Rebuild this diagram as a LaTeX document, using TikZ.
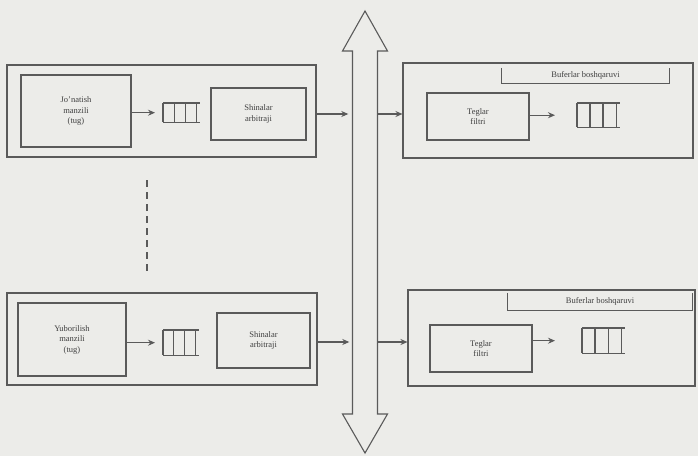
\documentclass[tikz,border=0pt]{standalone}
\usepackage{fontspec}
\setmainfont{Liberation Serif}
\usetikzlibrary{arrows.meta,calc}
\definecolor{ink}{HTML}{5A5A5A}
\definecolor{txt}{HTML}{404040}
\definecolor{paper}{HTML}{ECECE9}
\tikzset{
  box/.style={draw=ink, line width=1.1pt, inner sep=0pt, align=center, text=txt,
    font=\fontsize{8.5}{10.5}\selectfont},
  ghost/.style={inner sep=0pt, draw=none},
  arr/.style={draw=ink, line width=1.1pt, -{Stealth[length=7pt,width=6pt]}},
  qline/.style={draw=ink, line width=1.1pt},
}
% queue symbol: name, x-left, y-top, width, height
\newcommand\qsym[5]{%
  \node[ghost, minimum width=#4pt, minimum height=#5pt, anchor=north west] (#1) at (#2,#3) {};
  \draw[qline] (#1.north west) -- (#1.north east) (#1.south west) -- (#1.south east);
  \foreach \f in {0,0.3,0.6,0.9}{
    \draw[qline] ($(#1.north west)!\f!(#1.north east)$) -- ($(#1.south west)!\f!(#1.south east)$);}
}
\begin{document}
\begin{tikzpicture}[x=1pt,y=-1pt]
\fill[paper] (0,0) rectangle (698,456);
\useasboundingbox (0,0) rectangle (698,456);

% bus
\node[ghost, minimum width=25pt, minimum height=442pt] (bus) at (365,232) {};
\draw[ink, line width=1.1pt, fill=paper]
  (365,11) -- (387.5,51) -- (377.5,51) -- (377.5,414) -- (387.5,414) -- (365,453)
  -- (342.5,414) -- (352.5,414) -- (352.5,51) -- (342.5,51) -- cycle;

% top-left
\node[box, minimum width=309pt, minimum height=92pt] (oTL) at (161.5,111) {};
\node[box, minimum width=110pt, minimum height=72pt] (jo) at (76,111) {Jo'natish\\manzili\\(tug)};
\qsym{qTL}{163}{103}{37}{19}
\node[box, minimum width=95pt, minimum height=52pt] (shTL) at (258.5,114) {Shinalar\\arbitraji};
\draw[arr, shorten >=8pt] (jo.east |- qTL.west) -- (qTL.west);

% bottom-left
\node[box, minimum width=310pt, minimum height=92pt] (oBL) at (162,339) {};
\node[box, minimum width=108pt, minimum height=73pt] (yub) at (72,339.5) {Yuborilish\\manzili\\(tug)};
\qsym{qBL}{163}{330}{36}{25}
\node[box, minimum width=93pt, minimum height=55pt] (shBL) at (263.5,340.5) {Shinalar\\arbitraji};
\draw[arr, shorten >=8pt] (yub.east |- qBL.west) -- (qBL.west);

% top-right
\node[box, minimum width=290pt, minimum height=95pt] (oTR) at (548,110.5) {};
\node[ghost, minimum width=167pt, minimum height=15pt, align=center, text=txt,
  font=\fontsize{8.5}{10.5}\selectfont] (bTR) at (585.5,75.5) {Buferlar boshqaruvi};
\draw[qline] (bTR.north west) -- (bTR.south west) -- (bTR.south east) -- (bTR.north east);
\node[box, minimum width=102pt, minimum height=47pt] (tTR) at (478,116.5) {Teglar\\filtri};
\qsym{qTR}{577}{103}{43}{24}
\draw[arr, shorten >=22pt] (tTR.east |- qTR.west) -- (qTR.west);

% bottom-right
\node[box, minimum width=287pt, minimum height=96pt] (oBR) at (551.5,338) {};
\node[ghost, minimum width=184pt, minimum height=17pt, align=center, text=txt,
  font=\fontsize{8.5}{10.5}\selectfont] (bBR) at (600,301.5) {Buferlar boshqaruvi};
\draw[qline] (bBR.north west) -- (bBR.south west) -- (bBR.south east) -- (bBR.north east);
\node[box, minimum width=102pt, minimum height=47pt] (tBR) at (481,348.5) {Teglar\\filtri};
\qsym{qBR}{582}{328}{43}{25}
\draw[arr, shorten >=27pt] (tBR.east |- qBR.west) -- (qBR.west);

% bus connections
\coordinate (yT) at (0,114);
\coordinate (yB) at (0,342);
\draw[arr, shorten >=4pt] (oTL.east |- yT) -- (bus.west |- yT);
\draw[arr] (bus.east |- yT) -- (oTR.west |- yT);
\draw[arr, shorten >=3pt] (oBL.east |- yB) -- (bus.west |- yB);
\draw[arr] (bus.east |- yB) -- (oBR.west |- yB);

% dashed continuation
\coordinate (d1) at (147,180);
\coordinate (d2) at (147,272);
\draw[ink, line width=1.1pt, dash pattern=on 7pt off 5pt] (d1) -- (d2);
\end{tikzpicture}
\end{document}
